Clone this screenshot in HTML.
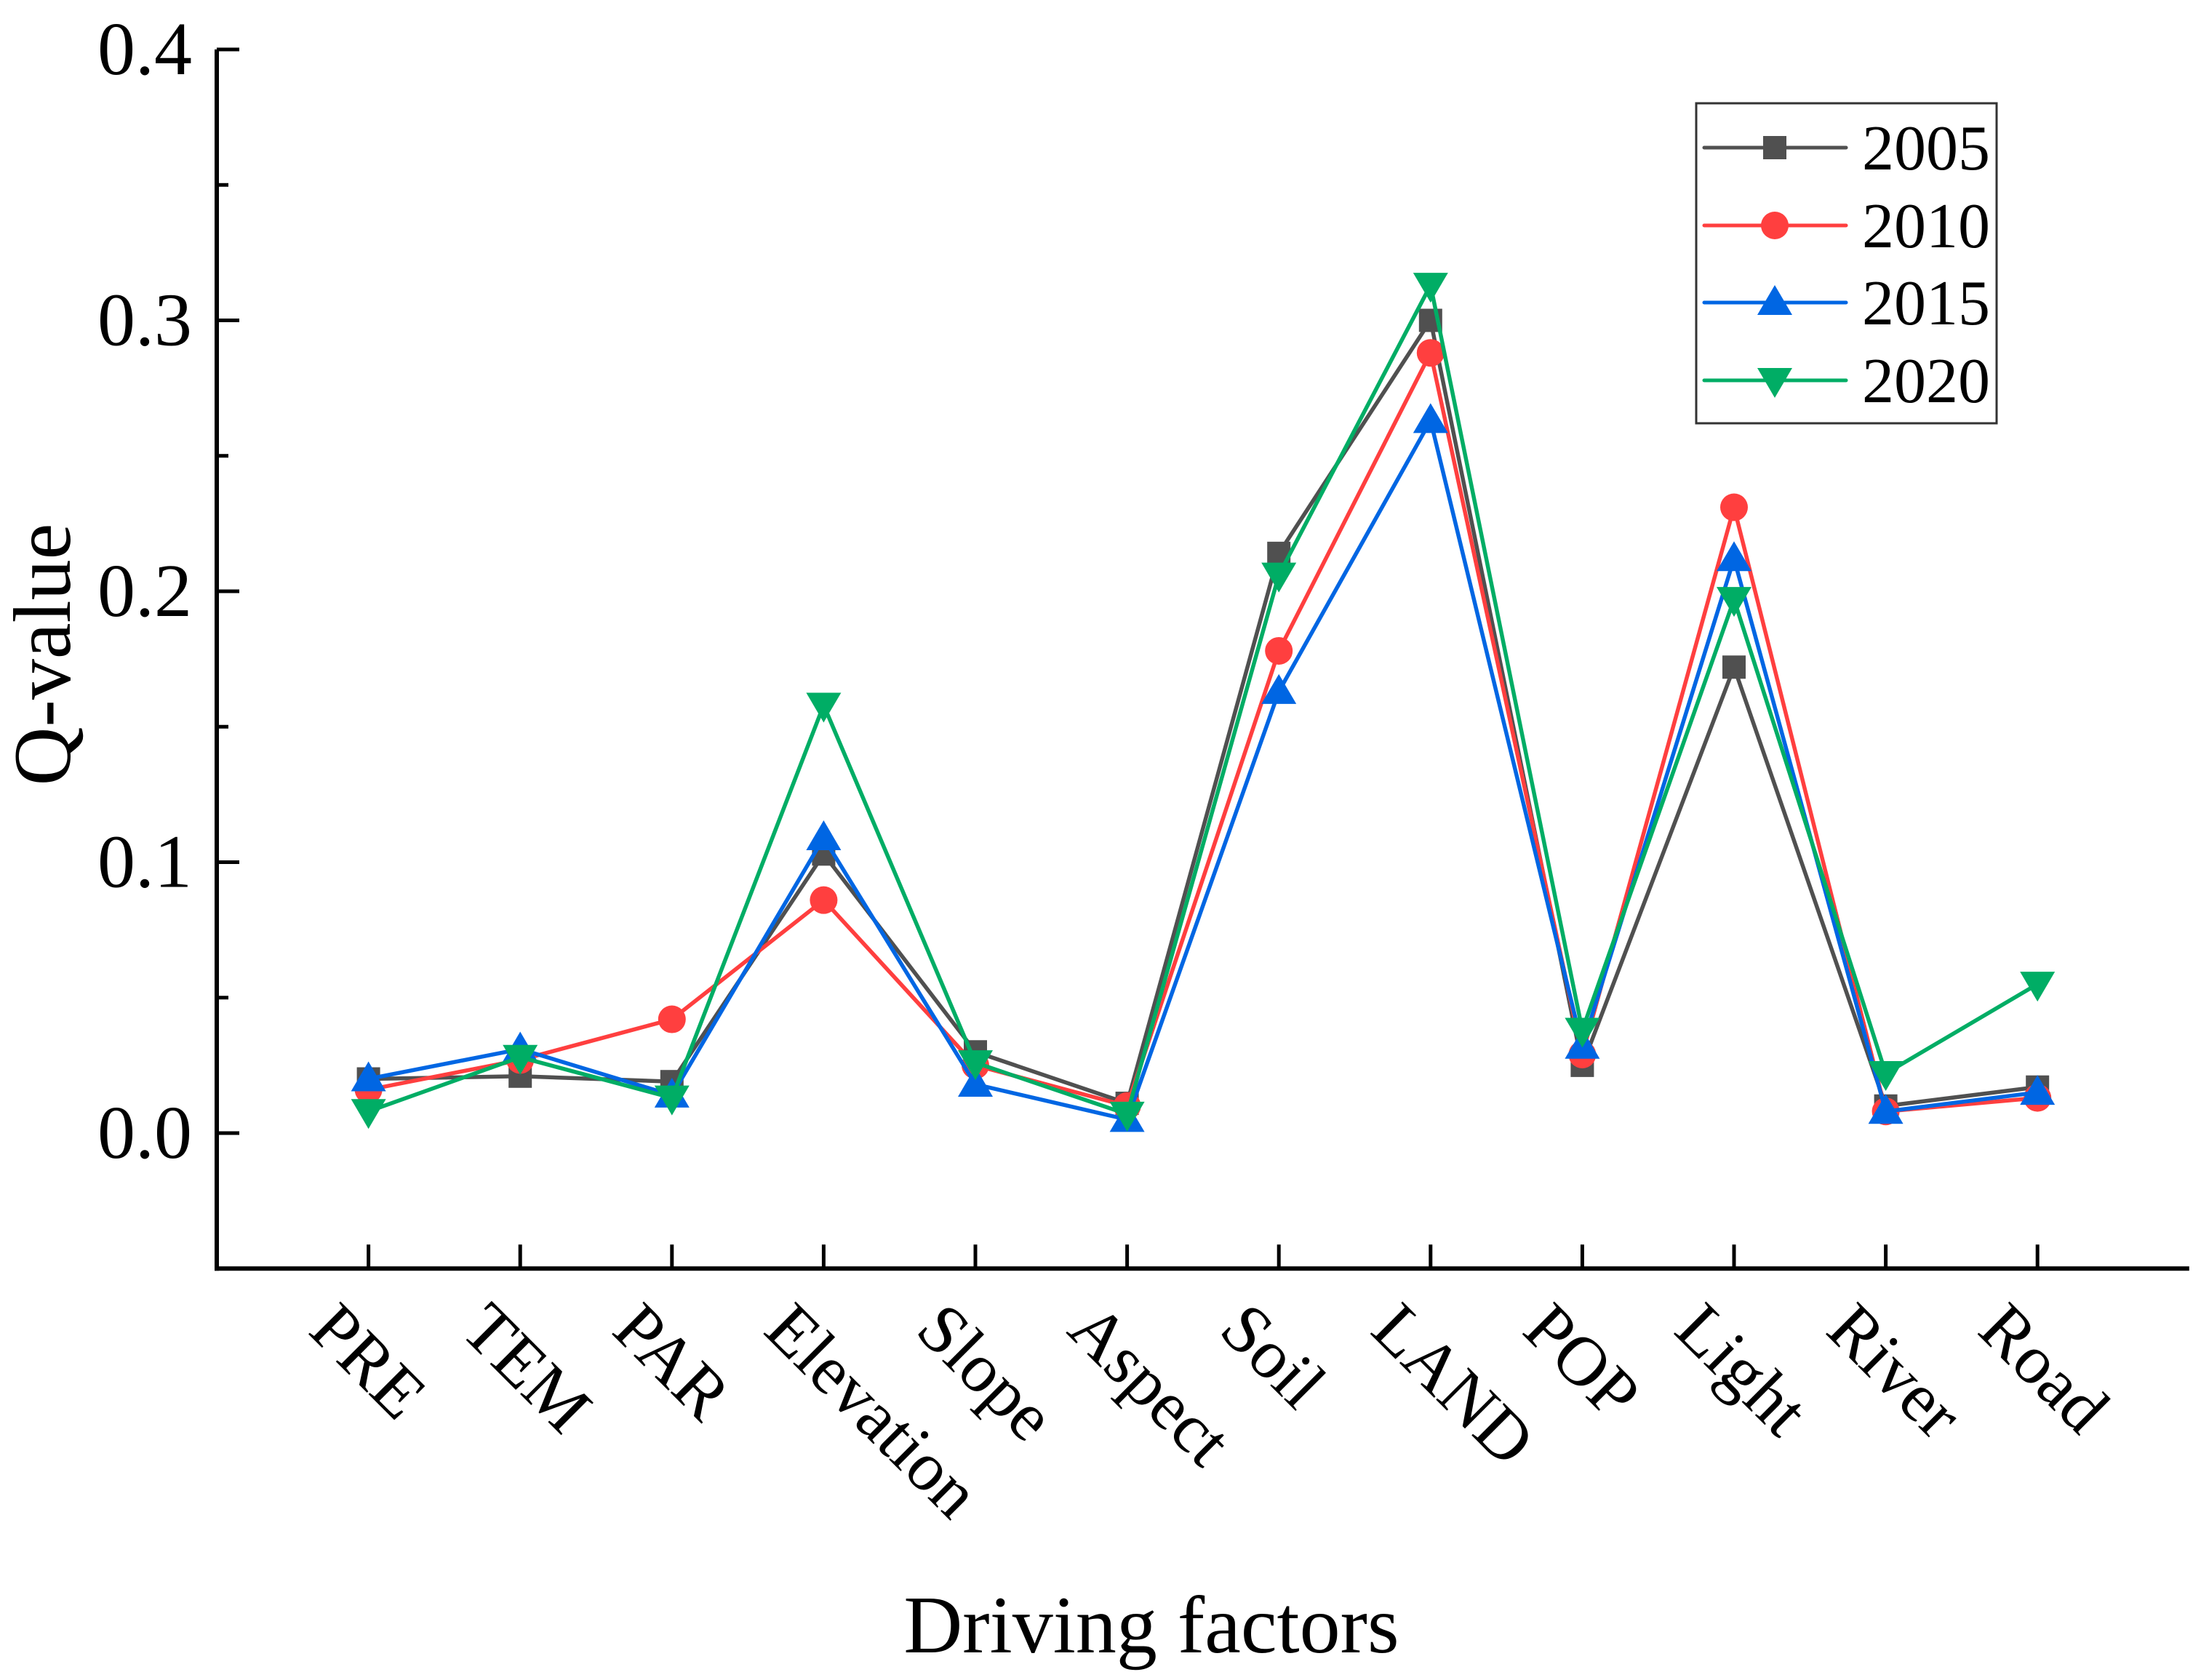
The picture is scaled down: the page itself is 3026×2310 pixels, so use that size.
<!DOCTYPE html>
<html><head><meta charset="utf-8"><style>
html,body{margin:0;padding:0;background:#fff;}
svg{display:block;font-family:"Liberation Serif",serif;}
</style></head><body>
<svg id="chart" width="3026" height="2310" viewBox="0 0 3026 2310" xmlns="http://www.w3.org/2000/svg"></svg>
<script>
const categories = ["PRE","TEM","PAR","Elevation","Slope","Aspect","Soil","LAND","POP","Light","River","Road"];
const years = ["2005","2010","2015","2020"];
const q2005 = [0.020,0.021,0.019,0.103,0.030,0.011,0.214,0.300,0.025,0.172,0.010,0.017];
const q2010 = [0.016,0.027,0.042,0.086,0.025,0.010,0.178,0.288,0.029,0.231,0.008,0.013];
const q2015 = [0.020,0.031,0.014,0.109,0.018,0.005,0.163,0.263,0.032,0.212,0.008,0.015];
const q2020 = [0.008,0.028,0.013,0.158,0.026,0.007,0.206,0.313,0.038,0.197,0.022,0.055];
const yTicks = [0.0,0.1,0.2,0.3,0.4];
const yTickLabels = ["0.0","0.1","0.2","0.3","0.4"];

const svg = document.getElementById('chart');
const NS = 'http://www.w3.org/2000/svg';
function mk(tag, attrs, parent){const e=document.createElementNS(NS,tag);for(const k in attrs)e.setAttribute(k,attrs[k]);(parent||svg).appendChild(e);return e;}

const X0=298, XSTEP=208.6, Y0=1558, YPER=3725;
const xPos = i => X0 + (i+1)*XSTEP;
const yPos = v => Y0 - v*YPER;
const AXB = yPos(-0.05), AXT = yPos(0.4), AXR = X0 + 13*XSTEP;

const yAxis = mk('line',{x1:X0,y1:AXT,x2:X0,y2:AXB+3,stroke:'#000','stroke-width':6});


const xAxis = mk('line',{x1:X0-3,y1:AXB,x2:AXR,y2:AXB,stroke:'#000','stroke-width':6});



for(let k=0;k<yTicks.length;k++){
  const y=yPos(yTicks[k]);
  const t=mk('line',{x1:X0,y1:y,x2:X0+31,y2:y,stroke:'#000','stroke-width':5});
  
  
  const lb=mk('text',{x:264,y:y+34,'text-anchor':'end','font-size':104,fill:'#000'});
  lb.textContent=yTickLabels[k];
  
  
  if(k<yTicks.length-1){
    const ym=yPos(yTicks[k]+0.05);
    const m=mk('line',{x1:X0,y1:ym,x2:X0+16,y2:ym,stroke:'#000','stroke-width':5});
    
    
  }
}
for(let i=0;i<categories.length;i++){
  const x=xPos(i);
  const t=mk('line',{x1:x,y1:AXB,x2:x,y2:AXB-33,stroke:'#000','stroke-width':5});
  
  
  const bx=x-85, by=1832;
  const lb=mk('text',{x:bx,y:by,'font-size':96,fill:'#000',transform:`rotate(45 ${bx} ${by})`});
  lb.textContent=categories[i];
  
  
}
const yt=mk('text',{x:0,y:0,'font-size':112,'text-anchor':'middle',fill:'#000',transform:'translate(96 900) rotate(-90)'});
yt.textContent='Q-value';


const xt=mk('text',{x:1583,y:2272,'font-size':112,'text-anchor':'middle',fill:'#000'});
xt.textContent='Driving factors';



const series=[
  {vals:q2005,color:'#505050',m:'square'},
  {vals:q2010,color:'#ff3f3f',m:'circle'},
  {vals:q2015,color:'#0066e3',m:'up'},
  {vals:q2020,color:'#00ad65',m:'down'}
];
function marker(type,x,y,color,parent){
  let e;
  if(type==='square') e=mk('rect',{x:x-16,y:y-16,width:32,height:32,fill:color},parent);
  else if(type==='circle') e=mk('circle',{cx:x,cy:y,r:19,fill:color},parent);
  else if(type==='up') e=mk('polygon',{points:`${x},${y-24} ${x-24},${y+17} ${x+24},${y+17}`,fill:color},parent);
  else e=mk('polygon',{points:`${x},${y+24} ${x-24},${y-17} ${x+24},${y-17}`,fill:color},parent);
  return e;
}
series.forEach((s,si)=>{
  const g=mk('g',{});
  
  
  const pts=s.vals.map((v,i)=>xPos(i)+','+yPos(v)).join(' ');
  const pl=mk('polyline',{points:pts,fill:'none',stroke:s.color,'stroke-width':5.5,'stroke-linejoin':'round'},g);
  
  
  s.vals.forEach((v,i)=>{
    const mkE=marker(s.m,xPos(i),yPos(v),s.color,g);
    
    
  });
});
const lg=mk('g',{});


mk('rect',{x:2332,y:142,width:413,height:440,fill:'#fff',stroke:'#333','stroke-width':3},lg);
const rowY=[203,310,416,523];
series.forEach((s,si)=>{
  const eg=mk('g',{},lg);
  
  
  mk('line',{x1:2343,y1:rowY[si],x2:2538,y2:rowY[si],stroke:s.color,'stroke-width':5,'stroke-linecap':'round'},eg);
  marker(s.m,2440,rowY[si],s.color,eg);
  const t=mk('text',{x:2560,y:rowY[si]+30,'font-size':88,fill:'#000'},eg);
  t.textContent=years[si];
});
</script>
</body></html>
